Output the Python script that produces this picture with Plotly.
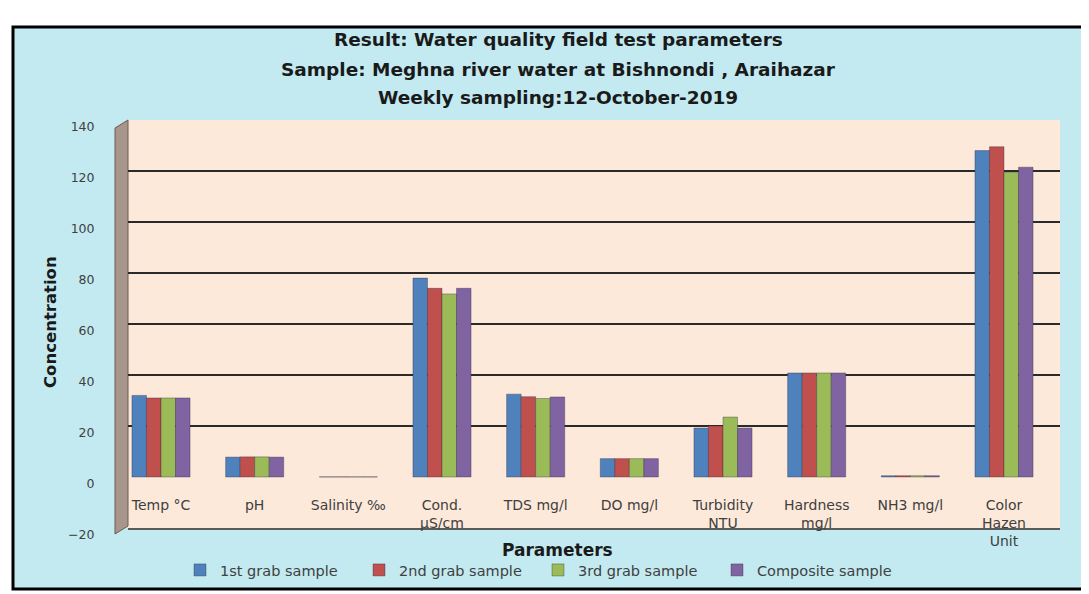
import plotly.graph_objects as go

categories = ["Temp °C", "pH", "Salinity ‰", "Cond.<br>µS/cm", "TDS mg/l", "DO mg/l",
              "Turbidity<br>NTU", "Hardness<br>mg/l", "NH3 mg/l", "Color<br>Hazen<br>Unit"]
series_names = ["1st grab sample", "2nd grab sample", "3rd grab sample", "Composite sample"]
grab1 = [32.0, 7.8, 0.05, 78.0, 32.5, 7.2, 19.2, 40.8, 0.5, 128.0]
grab2 = [31.0, 7.9, 0.05, 74.0, 31.5, 7.2, 20.0, 40.8, 0.5, 129.5]
grab3 = [31.0, 7.9, 0.05, 71.8, 30.8, 7.2, 23.5, 40.8, 0.5, 119.5]
composite = [31.0, 7.8, 0.05, 74.0, 31.4, 7.2, 19.2, 40.8, 0.5, 121.5]
colors = ["#4f81bd", "#c0504d", "#9bbb59", "#8064a2"]
ytick_vals = [-20, 0, 20, 40, 60, 80, 100, 120, 140]
grid_vals = [20, 40, 60, 80, 100, 120, 140]

# page has an 8px body margin: work in screen coordinates, convert to figure coords
OFF = 8
W, H = 1081, 586
L, R, T, B = 128, 1060, 120, 528          # screen px of plot area
PW, PH = R - L, B - T

def px(p):
    return (p - L) / PW

def py(p):
    return (B - p) / PH

X0, X9 = 161, 1004
step = (X9 - X0) / 9.0

fig = go.Figure()
for name, vals, col in zip(series_names, [grab1, grab2, grab3, composite], colors):
    fig.add_trace(go.Bar(x=list(range(len(categories))), y=vals, name=name,
                         marker=dict(color=col, line=dict(color="rgba(40,40,60,0.6)", width=0.6))))

fig.add_trace(go.Scatter(x=[0], y=[0], yaxis="y2", mode="markers",
                         marker=dict(opacity=0), showlegend=False, hoverinfo="skip"))

reg = "DejaVu Sans, sans-serif"
fig.update_layout(
    width=W, height=H,
    margin=dict(l=L - OFF, r=W - (R - OFF), t=T - OFF, b=H - (B - OFF), autoexpand=False),
    paper_bgcolor="white",
    plot_bgcolor="rgba(0,0,0,0)",
    barmode="group", bargap=0.38, bargroupgap=0.0,
    font=dict(family=reg, size=14, color="#404040"),
    xaxis=dict(
        tickmode="array", tickvals=list(range(len(categories))), ticktext=categories,
        range=[-(X0 - L) / step, 9 + (R - X9) / step],
        showgrid=False, zeroline=False, showline=True, linecolor="#5a5a5a", linewidth=2,
        ticks="", ticklabelstandoff=-37,
        tickfont=dict(family=reg, size=14, color="#404040"),
    ),
    yaxis=dict(
        range=[-20, 140], tickvals=ytick_vals, showgrid=False, zeroline=False,
        ticks="outside", ticklen=30, tickcolor="rgba(0,0,0,0)", ticklabelshift=7,
        tickfont=dict(family=reg, size=12.5, color="#404040"), showline=False,
    ),
    yaxis2=dict(
        range=[-20, 140], tickvals=grid_vals, overlaying="y", showticklabels=False,
        showgrid=True, gridcolor="#2a2a2a", gridwidth=1.6, zeroline=False, ticks="",
    ),
    legend=dict(orientation="h", x=px(180), y=py(570), xanchor="left", yanchor="middle",
                bgcolor="rgba(0,0,0,0)", font=dict(family=reg, size=14.5, color="#404040"),
                itemwidth=30, entrywidthmode="pixels", entrywidth=134),
    showlegend=True,
)

shapes = [
    dict(type="rect", xref="paper", yref="paper", x0=px(13), x1=px(1100), y0=py(589), y1=py(27),
         line=dict(color="black", width=3), fillcolor="#c3eaf1", layer="below"),
    dict(type="rect", xref="paper", yref="paper", x0=0, x1=1, y0=0, y1=1,
         line=dict(width=0), fillcolor="#fde9da", layer="below"),
    dict(type="path", xref="paper", yref="paper",
         path=f"M {px(115)} {py(534)} L {px(128)} {py(526)} L {px(128)} {py(120)} L {px(115)} {py(128)} Z",
         line=dict(color="#6b5a50", width=1), fillcolor="#a8968c", layer="below"),
]
fig.update_layout(shapes=shapes)

bold = "DejaVu Sans, sans-serif"
title_lines = ["Result: Water quality field test parameters",
               "Sample: Meghna river water at Bishnondi , Araihazar",
               "Weekly sampling:12-October-2019"]
title_y = [39, 69, 97]
anns = []
for t, yy in zip(title_lines, title_y):
    anns.append(dict(text=f"<b>{t}</b>", xref="paper", yref="paper", x=px(558), y=py(yy),
                     xanchor="center", yanchor="middle", showarrow=False,
                     font=dict(family=bold, size=18.5, color="#1a1a1a")))
anns.append(dict(text="<b>Parameters</b>", xref="paper", yref="paper", x=px(557), y=py(550),
                 xanchor="center", yanchor="middle", showarrow=False,
                 font=dict(family=bold, size=17, color="#1a1a1a")))
anns.append(dict(text="<b>Concentration</b>", xref="paper", yref="paper", x=px(50), y=py(322),
                 xanchor="center", yanchor="middle", showarrow=False, textangle=-90,
                 font=dict(family=bold, size=16.5, color="#1a1a1a")))
fig.update_layout(annotations=anns)

fig.write_html("out.html")
